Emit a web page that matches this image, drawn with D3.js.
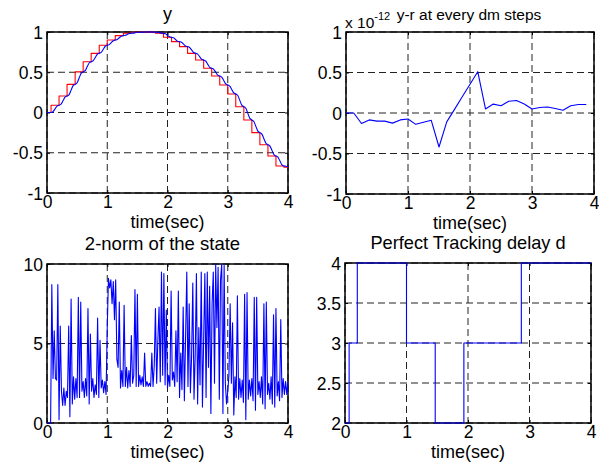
<!DOCTYPE html>
<html>
<head>
<meta charset="utf-8">
<script src="https://cdn.jsdelivr.net/npm/d3@7"></script>
<style>
  html, body { margin: 0; padding: 0; background: #fff; }
  svg { display: block; font-family: "Liberation Sans", Arial, sans-serif; }
</style>
</head>
<body>
<svg id="chart" width="599" height="464"></svg>
<script>
// reference r, held between dm steps (switch time, level after switch)
const refT = [0, 0.067, 0.2, 0.333, 0.467, 0.6, 0.733, 0.867, 1.0, 1.133, 1.267, 1.4, 1.533, 1.667, 1.8, 1.933,
  2.067, 2.2, 2.333, 2.467, 2.6, 2.733, 2.867, 3.0, 3.133, 3.267, 3.4, 3.533, 3.667, 3.8, 3.933, 4.0];
const refLevel = [0, 0.09, 0.205, 0.35, 0.505, 0.63, 0.735, 0.835, 0.90, 0.955, 0.985, 0.997, 1.0, 0.998, 0.984, 0.934,
  0.88, 0.818, 0.735, 0.652, 0.549, 0.453, 0.342, 0.23, 0.072, -0.093, -0.25, -0.40, -0.54, -0.665, -0.68, -0.68];

// plant output y, one value every outDt seconds
const outDt = 1 / 30;
const outY = [
  0, 0, 0,
  0.011, 0.045, 0.079, 0.09,
  0.104, 0.148, 0.191, 0.205,
  0.222, 0.278, 0.333, 0.35,
  0.369, 0.428, 0.486, 0.505,
  0.52, 0.568, 0.615, 0.63,
  0.643, 0.683, 0.722, 0.735,
  0.747, 0.785, 0.823, 0.835,
  0.843, 0.868, 0.892, 0.90,
  0.907, 0.928, 0.948, 0.955,
  0.959, 0.97, 0.981, 0.985,
  0.986, 0.991, 0.996, 0.997,
  0.997, 0.999, 1.0, 1.0,
  1.0, 0.999, 0.998, 0.998,
  0.996, 0.991, 0.986, 0.984,
  0.978, 0.959, 0.94, 0.934,
  0.928, 0.907, 0.886, 0.88,
  0.873, 0.849, 0.825, 0.818,
  0.808, 0.777, 0.745, 0.735,
  0.725, 0.694, 0.662, 0.652,
  0.64, 0.601, 0.561, 0.549,
  0.537, 0.501, 0.465, 0.453,
  0.44, 0.398, 0.355, 0.342,
  0.329, 0.286, 0.243, 0.23,
  0.211, 0.151, 0.091, 0.072,
  0.052, -0.011, -0.073, -0.093,
  -0.112, -0.172, -0.231, -0.25,
  -0.268, -0.325, -0.382, -0.40,
  -0.417, -0.47, -0.523, -0.54,
  -0.555, -0.603, -0.65, -0.665,
  -0.667, -0.673
];

// y-r sampled every dm steps, in units of 1e-12
const errT = [0, 0.125, 0.25, 0.375, 0.5, 0.625, 0.75, 0.875, 1.0, 1.125, 1.25, 1.375, 1.5, 1.625, 1.75, 1.875,
  2.0, 2.125, 2.25, 2.375, 2.5, 2.625, 2.75, 2.875, 3.0, 3.125, 3.25, 3.375, 3.5, 3.625, 3.75, 3.875];
const errY = [0, 0, -0.13, -0.085, -0.10, -0.10, -0.125, -0.085, -0.075, -0.14, -0.115, -0.09, -0.42, -0.11, 0.045, 0.20,
  0.355, 0.51, 0.05, 0.11, 0.09, 0.145, 0.155, 0.11, 0.05, 0.068, 0.075, 0.055, 0.035, 0.09, 0.105, 0.105];

// 2-norm of the state, one value every normDt seconds
const normDt = 0.02;
const normY = [
  0, 0, 0, 0, 8.7, 2.8, 5.8, 2.8, 2.7, 8.7,
  0.2, 6.1, 2.0, 1.1, 2.2, 1.1, 2.0, 1.6, 6.1, 0.4,
  7.8, 1.2, 2.9, 1.5, 2.8, 1.6, 7.9, 1.6, 7.6, 2.0,
  2.6, 1.6, 2.8, 1.7, 7.2, 1.2, 5.6, 2.0, 2.8, 1.6,
  2.4, 1.8, 6.6, 1.6, 5.2, 2.2, 2.7, 1.9, 2.6, 1.8,
  6.0, 9.1, 8.5, 9.0, 7.5, 8.9, 6.5, 9.0, 4.0, 3.5,
  7.6, 2.2, 3.3, 2.3, 7.4, 2.3, 3.5, 2.2, 3.3, 2.3,
  5.5, 2.5, 3.0, 8.4, 2.3, 8.1, 2.3, 3.0, 2.4, 2.9,
  2.3, 4.4, 2.3, 2.6, 2.3, 2.5, 2.3, 4.4, 2.3, 3.6,
  7.2, 2.5, 5.2, 7.3, 2.6, 9.5, 3.0, 9.4, 2.4, 7.1,
  2.2, 3.0, 2.3, 8.3, 2.7, 3.2, 2.3, 5.8, 2.6, 8.3,
  1.6, 4.4, 2.1, 7.3, 1.4, 5.4, 9.5, 2.3, 7.5, 1.9,
  4.2, 8.8, 1.5, 4.3, 9.4, 1.2, 6.0, 2.4, 9.5, 1.0,
  5.2, 9.4, 1.6, 9.5, 3.5, 8.6, 0.6, 7.5, 9.5, 2.5,
  10.0, 6.0, 9.8, 1.5, 9.0, 10.0, 0.6, 9.9, 2.5, 1.2,
  2.0, 3.0, 7.5, 2.5, 6.3, 0.5, 2.9, 1.6, 8.0, 1.5,
  2.8, 1.6, 2.7, 1.3, 8.1, 0.2, 8.2, 1.5, 2.7, 1.7,
  2.8, 1.4, 7.9, 0.8, 7.9, 1.8, 2.6, 1.6, 2.9, 1.2,
  7.5, 0.9, 7.6, 1.8, 2.5, 1.5, 2.9, 1.2, 6.8, 1.0,
  7.2, 1.7, 2.6, 1.4, 6.5, 1.6, 2.8, 1.8, 2.6, 1.8,
  2.6
];

// perfect tracking delay d (switch time, value after switch)
const delayT = [0, 0.067, 0.2, 1.0, 1.467, 1.933, 2.867, 4.0];
const delayD = [2, 3, 4, 3, 2, 3, 4, 4];

const timeTicks = [0, 1, 2, 3, 4];

const svg = d3.select("#chart");

function drawPanel(cfg) {
  const x = d3.scaleLinear().domain([0, 4]).range([cfg.left, cfg.right]);
  const y = d3.scaleLinear().domain(cfg.yDomain).range([cfg.bottom, cfg.top]);
  const g = svg.append("g");

  // dashed grid
  g.selectAll(".vgrid").data(timeTicks).join("line")
    .attr("x1", (d) => x(d)).attr("x2", (d) => x(d))
    .attr("y1", cfg.top).attr("y2", cfg.bottom)
    .attr("stroke", "#222").attr("stroke-width", 1).attr("stroke-dasharray", "7,4");
  g.selectAll(".hgrid").data(cfg.yTicks).join("line")
    .attr("x1", cfg.left).attr("x2", cfg.right)
    .attr("y1", (d) => y(d)).attr("y2", (d) => y(d))
    .attr("stroke", "#222").attr("stroke-width", 1).attr("stroke-dasharray", "7,4");

  // axes, ticks pointing inward (matlab style)
  const xb = g.append("g").attr("transform", `translate(0,${cfg.bottom})`)
    .call(d3.axisBottom(x).tickValues(timeTicks).tickSize(-3).tickPadding(4).tickFormat(d3.format("d")));
  const yl = g.append("g").attr("transform", `translate(${cfg.left},0)`)
    .call(d3.axisLeft(y).tickValues(cfg.yTicks).tickSize(-3).tickPadding(4).tickFormat((d) => String(d)));
  g.append("g").attr("transform", `translate(0,${cfg.top})`)
    .call(d3.axisTop(x).tickValues(timeTicks).tickSize(-3).tickFormat(""));
  g.append("g").attr("transform", `translate(${cfg.right},0)`)
    .call(d3.axisRight(y).tickValues(cfg.yTicks).tickSize(-3).tickFormat(""));
  g.selectAll(".domain").remove();
  g.selectAll(".tick line").attr("stroke", "#000");
  [xb, yl].forEach((a) => a.selectAll("text")
    .attr("font-size", 17.5).attr("fill", "#000").attr("font-family", '"Liberation Sans", Arial, sans-serif'));
  xb.selectAll("text").attr("dy", null).attr("y", 15);
  yl.selectAll("text").attr("dy", "0.35em");

  g.append("rect")
    .attr("x", cfg.left).attr("y", cfg.top)
    .attr("width", cfg.right - cfg.left).attr("height", cfg.bottom - cfg.top)
    .attr("fill", "none").attr("stroke", "#000").attr("stroke-width", 1.5);

  g.append("text")
    .attr("x", (cfg.left + cfg.right) / 2).attr("y", cfg.bottom + 35)
    .attr("text-anchor", "middle").attr("font-size", 18).text("time(sec)");

  g.append("text")
    .attr("x", (cfg.left + cfg.right) / 2 + (cfg.titleShift || 0)).attr("y", cfg.titleY)
    .attr("text-anchor", "middle").attr("font-size", cfg.titleSize).text(cfg.title);

  cfg.draw(g, x, y);
}

function addLine(g, xs, ys, color, curve, x, y) {
  const pts = xs.map((t, i) => [t, ys[i]]);
  g.append("path")
    .datum(pts)
    .attr("fill", "none").attr("stroke", color).attr("stroke-width", 1.1)
    .attr("stroke-linejoin", "round")
    .attr("d", d3.line().x((d) => x(d[0])).y((d) => y(d[1])).curve(curve));
}

drawPanel({
  left: 47, right: 288, top: 32, bottom: 193,
  yDomain: [-1, 1], yTicks: [-1, -0.5, 0, 0.5, 1],
  title: "y", titleY: 20, titleSize: 18,
  draw: (g, x, y) => {
    addLine(g, refT, refLevel, "#ff0000", d3.curveStepAfter, x, y);
    addLine(g, outY.map((v, i) => i * outDt), outY, "#0000ff", d3.curveMonotoneX, x, y);
  }
});

drawPanel({
  left: 346, right: 594, top: 32, bottom: 194,
  yDomain: [-1, 1], yTicks: [-1, -0.5, 0, 0.5, 1],
  title: "y-r at every dm steps", titleY: 20, titleSize: 15.5, titleShift: -1,
  draw: (g, x, y) => {
    addLine(g, errT, errY, "#0000ff", d3.curveLinear, x, y);
    const ex = g.append("text").attr("x", 345).attr("y", 28).attr("font-size", 15.5);
    ex.append("tspan").text("x 10");
    ex.append("tspan").attr("font-size", 11).attr("dy", -8).text("-12");
  }
});

drawPanel({
  left: 47, right: 288, top: 264, bottom: 423,
  yDomain: [0, 10], yTicks: [0, 5, 10],
  title: "2-norm of the state", titleY: 250, titleSize: 18.5, titleShift: -5,
  draw: (g, x, y) => {
    addLine(g, normY.map((v, i) => i * normDt), normY, "#0000ff", d3.curveLinear, x, y);
  }
});

drawPanel({
  left: 345, right: 591, top: 263, bottom: 423,
  yDomain: [2, 4], yTicks: [2, 2.5, 3, 3.5, 4],
  title: "Perfect Tracking delay d", titleY: 249, titleSize: 18.2,
  draw: (g, x, y) => {
    addLine(g, delayT, delayD, "#0000ff", d3.curveStepAfter, x, y);
  }
});
</script>
</body>
</html>
